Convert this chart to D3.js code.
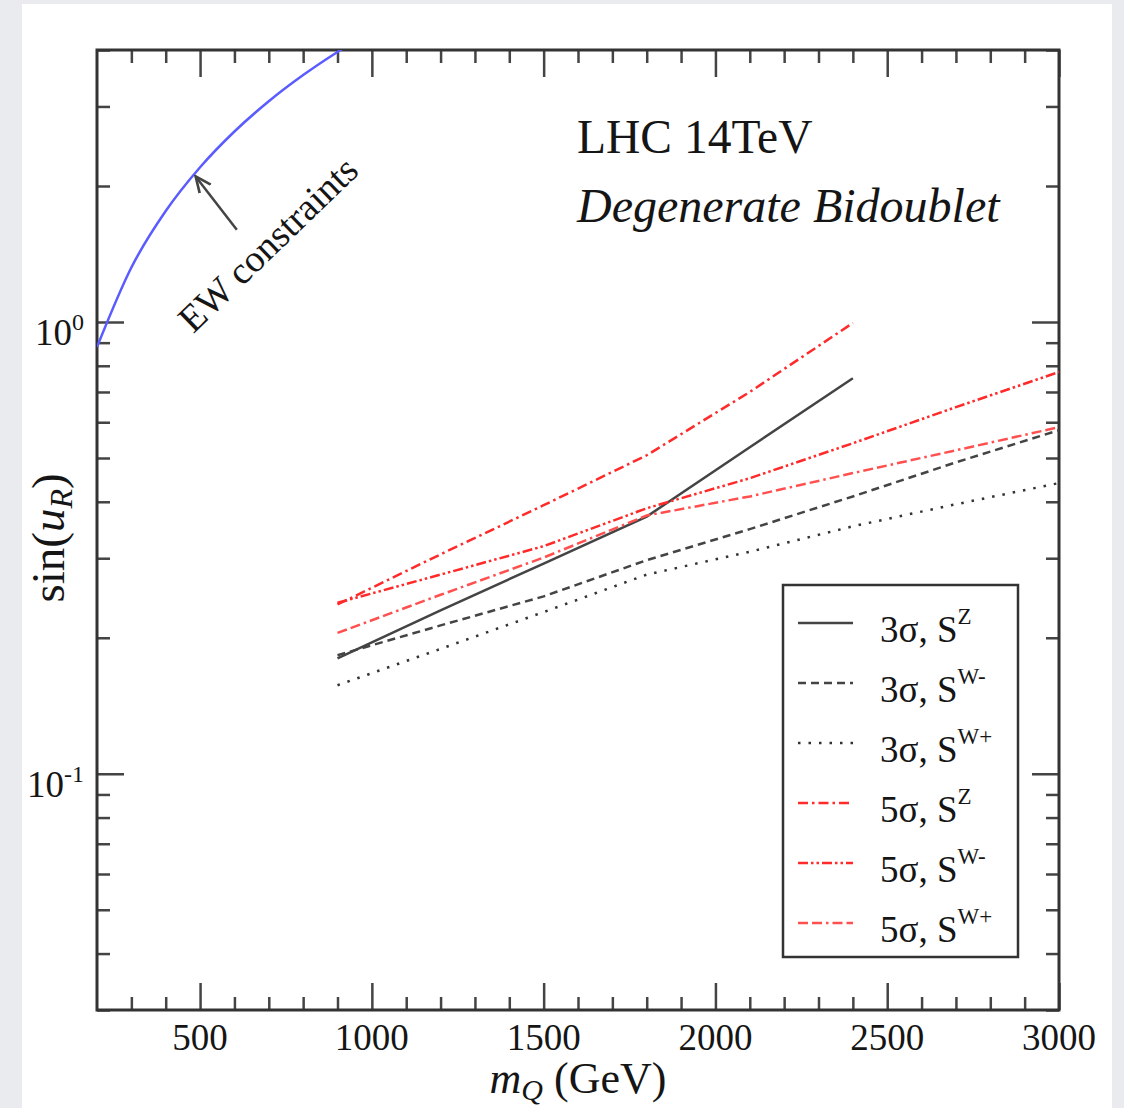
<!DOCTYPE html>
<html>
<head>
<meta charset="utf-8">
<script src="https://cdn.jsdelivr.net/npm/d3@7"></script>
<style>
body { margin: 0; background: #e9ebee; }
svg { display: block; }
text { font-family: "Liberation Serif", "Times New Roman", serif; fill: #151515; }
</style>
</head>
<body>
<svg id="chart" width="1124" height="1108"></svg>
<script>
// values
var massPoints = [900, 1200, 1500, 1800, 2100, 2400, 2700, 3000];

var sZ3 = [0.180, 0.230, 0.292, 0.371, 0.528, 0.751];
var sWm3 = [0.183, 0.213, 0.247, 0.297, 0.348, 0.411, 0.489, 0.576];
var sWp3 = [0.157, 0.189, 0.228, 0.276, 0.310, 0.353, 0.395, 0.440];
var sZ5 = [0.237, 0.306, 0.393, 0.507, 0.700, 0.995];
var sWm5 = [0.239, 0.276, 0.319, 0.387, 0.451, 0.539, 0.648, 0.775];
var sWp5 = [0.205, 0.249, 0.301, 0.373, 0.411, 0.463, 0.520, 0.585];

var ewMass = [200, 300, 400, 500, 600, 700, 800, 900, 1000];
var ewSin = [0.88, 1.32, 1.76, 2.2, 2.64, 3.08, 3.52, 3.96, 4.4];

var xMajorTicks = [500, 1000, 1500, 2000, 2500, 3000];
var xMinorTicks = [300, 400, 600, 700, 800, 900, 1100, 1200, 1300, 1400, 1600, 1700, 1800, 1900,
    2100, 2200, 2300, 2400, 2600, 2700, 2800, 2900];
var yMajorTicks = [0.1, 1];
var yMajorLabels = ["-1", "0"];
var yMinorTicks = [0.03, 0.04, 0.05, 0.06, 0.07, 0.08, 0.09, 0.2, 0.3, 0.4, 0.5, 0.6, 0.7, 0.8, 0.9, 2, 3, 4];

var legendLabels = [["3σ, S", "Z"], ["3σ, S", "W-"], ["3σ, S", "W+"],
    ["5σ, S", "Z"], ["5σ, S", "W-"], ["5σ, S", "W+"]];

var svg = d3.select("#chart");
var pLeft = 97, pRight = 1059, pTop = 50, pBottom = 1010;

svg.append("rect")
    .attr("x", 22).attr("y", 4)
    .attr("width", 1090).attr("height", 1104)
    .attr("fill", "#fff");

var x = d3.scaleLinear().domain([200, 3000]).range([pLeft, pRight]);
var y = d3.scaleLog().domain([0.03, 4]).range([pBottom, pTop]);

svg.append("clipPath").attr("id", "plotclip")
    .append("rect")
    .attr("x", pLeft).attr("y", pTop)
    .attr("width", pRight - pLeft).attr("height", pBottom - pTop);

// ticks on all four sides
function tickGroup(axis, transform) {
    var g = svg.append("g").attr("transform", transform).call(axis);
    g.select(".domain").remove();
    g.selectAll("line").attr("stroke", "#444").attr("stroke-width", 2.5);
    return g;
}
tickGroup(d3.axisBottom(x).tickValues(xMajorTicks).tickSize(-27).tickFormat(""), "translate(0," + pBottom + ")");
tickGroup(d3.axisBottom(x).tickValues(xMinorTicks).tickSize(-13).tickFormat(""), "translate(0," + pBottom + ")");
tickGroup(d3.axisTop(x).tickValues(xMajorTicks).tickSize(-27).tickFormat(""), "translate(0," + pTop + ")");
tickGroup(d3.axisTop(x).tickValues(xMinorTicks).tickSize(-13).tickFormat(""), "translate(0," + pTop + ")");
tickGroup(d3.axisLeft(y).tickValues(yMajorTicks).tickSize(-27).tickFormat(""), "translate(" + pLeft + ",0)");
tickGroup(d3.axisLeft(y).tickValues(yMinorTicks).tickSize(-13).tickFormat(""), "translate(" + pLeft + ",0)");
tickGroup(d3.axisRight(y).tickValues(yMajorTicks).tickSize(-27).tickFormat(""), "translate(" + pRight + ",0)");
tickGroup(d3.axisRight(y).tickValues(yMinorTicks).tickSize(-13).tickFormat(""), "translate(" + pRight + ",0)");

// frame
svg.append("rect")
    .attr("x", pLeft).attr("y", pTop)
    .attr("width", pRight - pLeft).attr("height", pBottom - pTop)
    .attr("fill", "none").attr("stroke", "#333").attr("stroke-width", 3);

// tick labels
svg.append("g").selectAll("text")
    .data(xMajorTicks).enter()
    .append("text")
    .attr("x", function(d){ return x(d); })
    .attr("y", pBottom + 40)
    .attr("text-anchor", "middle")
    .attr("font-size", 37)
    .text(function(d){ return d; });

var ylab = svg.append("g").selectAll("text")
    .data(yMajorTicks).enter()
    .append("text")
    .attr("x", 84)
    .attr("y", function(d){ return y(d) + 23; })
    .attr("text-anchor", "end")
    .attr("font-size", 37);
ylab.append("tspan").text("10");
ylab.append("tspan")
    .attr("dy", -15).attr("font-size", 24)
    .text(function(d, i){ return yMajorLabels[i]; });

// axis titles
var xt = svg.append("text")
    .attr("x", 578).attr("y", 1093)
    .attr("text-anchor", "middle")
    .attr("font-size", 44);
xt.append("tspan").attr("font-style", "italic").text("m");
xt.append("tspan").attr("font-style", "italic").attr("font-size", 30).attr("dy", 7).text("Q");
xt.append("tspan").attr("dy", -7).text(" (GeV)");

var yt = svg.append("text")
    .attr("transform", "translate(64,538) rotate(-90)")
    .attr("text-anchor", "middle")
    .attr("font-size", 47);
yt.append("tspan").text("sin(");
yt.append("tspan").attr("font-style", "italic").text("u");
yt.append("tspan").attr("font-style", "italic").attr("font-size", 32).attr("dy", 8).text("R");
yt.append("tspan").attr("dy", -8).text(")");

// title
svg.append("text").attr("x", 577).attr("y", 153).attr("font-size", 47.5).text("LHC 14TeV");
svg.append("text").attr("x", 577).attr("y", 222).attr("font-size", 48)
    .attr("font-style", "italic").text("Degenerate Bidoublet");

// curves
var plot = svg.append("g").attr("clip-path", "url(#plotclip)");

var line = d3.line()
    .x(function(d){ return x(d[0]); })
    .y(function(d){ return y(d[1]); });

function pairs(xs, ys) {
    return ys.map(function(v, i){ return [xs[i], v]; });
}

plot.append("path")
    .datum(pairs(ewMass, ewSin))
    .attr("d", line.curve(d3.curveMonotoneX))
    .attr("fill", "none")
    .attr("stroke", "#5a5cff")
    .attr("stroke-width", 2.5);
line.curve(d3.curveLinear);

var seriesList = [
    { values: sZ3, color: "#444", dash: null },
    { values: sWm3, color: "#444", dash: "8,5" },
    { values: sWp3, color: "#333", dash: "2.5,8" },
    { values: sZ5, color: "#ff2a2a", dash: "10,4,2.5,4" },
    { values: sWm5, color: "#ff2a2a", dash: "10,3,2.5,3,2.5,3" },
    { values: sWp5, color: "#ff5050", dash: "10,4,10,4,2.5,4" }
];

plot.selectAll(".series")
    .data(seriesList).enter()
    .append("path")
    .attr("class", "series")
    .attr("d", function(d){ return line(pairs(massPoints, d.values)); })
    .attr("fill", "none")
    .attr("stroke", function(d){ return d.color; })
    .attr("stroke-width", 2.5)
    .attr("stroke-dasharray", function(d){ return d.dash; });

// EW annotation
svg.append("defs").append("marker")
    .attr("id", "arrowhead")
    .attr("viewBox", "0 0 10 10")
    .attr("refX", 9).attr("refY", 5)
    .attr("markerWidth", 7).attr("markerHeight", 7)
    .attr("orient", "auto")
    .append("path")
    .attr("d", "M0,1 L9,5 L0,9")
    .attr("fill", "none")
    .attr("stroke", "#444")
    .attr("stroke-width", 1.5);

svg.append("line")
    .attr("x1", x(607)).attr("y1", y(1.6))
    .attr("x2", x(487)).attr("y2", y(2.1))
    .attr("stroke", "#444")
    .attr("stroke-width", 2.5)
    .attr("marker-end", "url(#arrowhead)");

svg.append("text")
    .attr("transform", "translate(" + x(480) + "," + y(0.94) + ") rotate(-44)")
    .attr("font-size", 38)
    .text("EW constraints");

// legend
var lg = svg.append("g");
lg.append("rect")
    .attr("x", 783).attr("y", 585)
    .attr("width", 235).attr("height", 372)
    .attr("fill", "#fff").attr("stroke", "#333").attr("stroke-width", 2.5);

var rows = lg.selectAll(".row")
    .data(seriesList).enter()
    .append("g")
    .attr("class", "row")
    .attr("transform", function(d, i){ return "translate(0," + (623 + i * 60) + ")"; });

rows.append("line")
    .attr("x1", 798).attr("x2", 853)
    .attr("stroke", function(d){ return d.color; })
    .attr("stroke-width", 2.5)
    .attr("stroke-dasharray", function(d){ return d.dash; });

var lt = rows.append("text")
    .attr("x", 880).attr("y", 19)
    .attr("font-size", 37);
lt.append("tspan").text(function(d, i){ return legendLabels[i][0]; });
lt.append("tspan")
    .attr("dy", -18).attr("font-size", 23)
    .text(function(d, i){ return legendLabels[i][1]; });
</script>
</body>
</html>
